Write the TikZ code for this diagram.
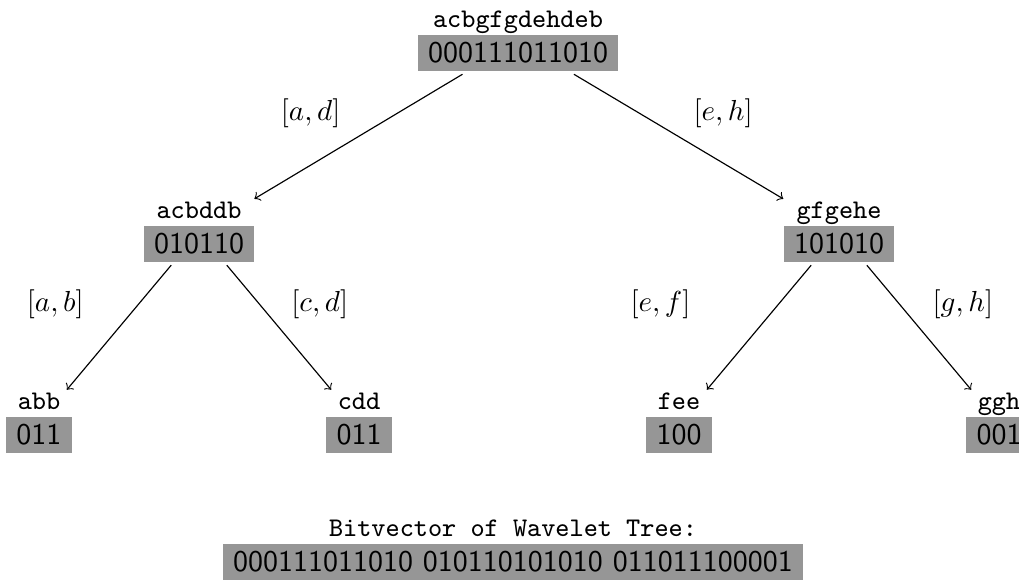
\documentclass[tikz,border=0pt]{standalone}
\usetikzlibrary{positioning}

\definecolor{bitgray}{gray}{0.59}
\newcommand{\bits}[1]{{\setlength{\fboxsep}{2.5pt}\colorbox{bitgray}{\hspace{1pt}\fontsize{10.35}{12}\sffamily #1\hspace{1pt}}}}

\tikzset{
  wnode/.style={rectangle, align=center, inner xsep=0pt, inner ysep=1pt,
    font=\fontsize{9.3}{12.1}\selectfont\ttfamily},
  elabel/.style={font=\normalsize}
}

\begin{document}
\begin{tikzpicture}[->, x=0.345pt, y=-0.345pt]
\useasboundingbox (0,0) rectangle (1019,580);

\node[wnode] (root) at (518,41) {acbgfgdehdeb\\\bits{000111011010}};
\node[wnode] (l) at (199,232) {acbddb\\\bits{010110}};
\node[wnode] (r) at (839,232) {gfgehe\\\bits{101010}};
\node[wnode] (ll) at (39,423) {abb\\\bits{011}};
\node[wnode] (lr) at (359,423) {cdd\\\bits{011}};
\node[wnode] (rl) at (679,423) {fee\\\bits{100}};
\node[wnode] (rr) at (999,423) {ggh\\\bits{001}};
\node[wnode] (bv) at (513,550) {Bitvector of Wavelet Tree:\\\bits{000111011010 010110101010 011011100001}};

\path (root) edge node[elabel, pos=.315, left=16pt] {$[a,d]$} (l);
\path (root) edge node[elabel, pos=.315, right=15pt] {$[e,h]$} (r);
\path (l) edge node[elabel, pos=.31, left=15.5pt] {$[a,b]$} (ll);
\path (l) edge node[elabel, pos=.31, right=7.6pt] {$[c,d]$} (lr);
\path (r) edge node[elabel, pos=.31, left=27pt] {$[e,f]$} (rl);
\path (r) edge node[elabel, pos=.31, right=8pt] {$[g,h]$} (rr);
\end{tikzpicture}
\end{document}
